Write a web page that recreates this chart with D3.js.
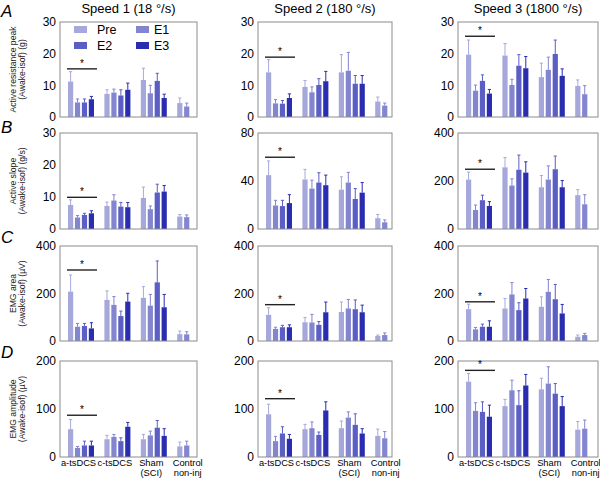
<!DOCTYPE html>
<html><head><meta charset="utf-8">
<script src="https://cdn.jsdelivr.net/npm/d3@7"></script>
<style>body{margin:0;background:#fff;}svg{display:block;font-family:"Liberation Sans",Arial,sans-serif;}</style>
</head><body>
<svg id="c" width="600" height="479"></svg>
<script>
const groups = ["a-tsDCS","c-tsDCS","Sham|(SCI)","Control|non-inj"];
const series = ["Pre","E1","E2","E3"];
const colors = ["#a6a8dc","#8385cf","#5b5ec2","#2a2db0"];
const speedTitles = ["Speed 1 (18 °/s)","Speed 2 (180 °/s)","Speed 3 (1800 °/s)"];
const rowLetters = ["A","B","C","D"];
const rowLabels = [["Active resistance peak","(Awake-isof) (g)"],["Active slope","(Awake-isof) (g/s)"],["EMG area","(Awake-isof) (µV)"],["EMG amplitude","(Awake-isof) (µV)"]];
const yMax = [[30,30,30],[30,80,400],[400,400,400],[200,200,200]];
const yTicks = [[[0,10,20,30],[0,10,20,30],[0,10,20,30]],[[0,10,20,30],[0,40,80],[0,200,400]],[[0,200,400],[0,200,400],[0,200,400]],[[0,100,200],[0,100,200],[0,100,200]]];

// means[col][group][series]
const meanA = [[[11.2,4.6,4.6,5.6],[7.3,7.7,6.8,8.6],[11.7,7.5,11.4,6.0],[4.4,3.3]],
               [[14.1,4.3,4.2,6.0],[9.5,7.8,10.1,11.3],[14.1,14.6,10.5,10.5],[4.9,3.6]],
               [[19.7,8.3,11.4,7.4],[19.4,10.1,16.2,15.4],[12.6,14.9,19.9,13.0],[9.8,7.2]]];
const semA  = [[[3.1,1.1,1.1,0.9],[1.3,1.1,1.8,2.1],[3.7,2.5,2.4,1.2],[1.6,1.1]],
               [[4.0,1.2,1.0,1.3],[2.0,1.7,2.0,3.1],[5.6,5.8,2.6,2.6],[1.4,0.8]],
               [[4.6,1.8,1.9,1.3],[3.8,1.8,3.5,3.7],[4.4,4.0,4.4,2.2],[1.9,2.7]]];
const meanB = [[[7.5,3.6,4.4,4.9],[7.2,8.9,7.0,6.8],[9.7,6.2,11.4,11.7],[3.9,3.7]],
               [[44.9,19.6,19.1,21.6],[41.3,33.7,38.7,36.5],[32.8,38.7,25.0,30.3],[9.0,5.6]],
               [[206,79,120,96],[257,181,247,235],[174,206,249,174],[141,103]]];
const semB  = [[[1.6,0.6,0.5,0.8],[1.2,1.8,1.3,1.5],[3.4,1.0,2.6,1.9],[0.6,0.7]],
               [[11.8,4.3,4.8,7.0],[8.4,7.0,8.2,8.4],[10.7,8.5,8.7,8.4],[3.1,2.0]],
               [[31,21,21,18],[41,28,61,45],[49,57,55,28],[23,40]]];
const meanC = [[[208,60,63,53],[173,152,105,166],[182,149,247,142],[29,28]],
               [[110,51,58,58],[79,78,68,121],[122,137,134,121],[21,25]],
               [[134,49,60,60],[137,196,130,179],[144,207,176,116],[18,25]]];
const semC  = [[[70,14,11,24],[38,35,21,35],[47,47,90,54],[13,11]],
               [[30,7,8,10],[20,34,14,43],[42,38,39,30],[4,9]],
               [[21,8,11,25],[42,50,31,42],[42,52,62,38],[7,7]]];
const meanD = [[[58,19,24,24],[37,42,33,63],[37,45,61,44],[22,24]],
               [[89,33,49,38],[58,60,46,97],[60,82,67,49],[44,39]],
               [[157,96,94,84],[106,139,108,149],[141,153,132,106],[57,59]]];
const semD  = [[[20,3,9,9],[8,5,7,9],[10,9,15,15],[9,9]],
               [[21,10,14,9],[10,13,6,18],[15,12,23,10],[14,14]],
               [[17,17,21,24],[14,21,30,23],[23,35,21,20],[17,18]]];
const sigLevel = [[15.2,18.9,25.5],[9.9,59.8,249],[299,153,165],[87,121.5,180.5]];

const means = [meanA,meanB,meanC,meanD];
const sems = [semA,semB,semC,semD];

const svg = d3.select("#c");
const colLeft = [60,258,458], colW = [137,134,140];
const rowTop = [22,133,246,361], rowH = [95,96,95,96];

const x0 = d3.scaleBand().domain(groups).range([8, 8+4*36.4]).padding(0);
const x1 = d3.scaleBand().domain(series).range([0,26]).paddingInner(0.25).paddingOuter(0);

// titles
speedTitles.forEach((t,c)=>{
  svg.append("text").attr("x", colLeft[c]+colW[c]/2).attr("y",12.5).attr("text-anchor","middle")
    .attr("font-size",13).text(t);
});

rowLetters.forEach((L,r)=>{
  const ly = [17,133,243,358][r];
  svg.append("text").attr("x",1).attr("y",ly).attr("font-size",17).attr("font-style","italic").text(L);
  const cy = rowTop[r]+rowH[r]/2;
  rowLabels[r].forEach((s,i)=>{
    svg.append("text").attr("transform",`translate(${15.5+i*9.5},${cy}) rotate(-90)`)
      .attr("text-anchor","middle").attr("font-size",8.6).attr("fill","#222").text(s);
  });
});

for(let r=0;r<4;r++){
  for(let c=0;c<3;c++){
    const g = svg.append("g").attr("transform",`translate(${colLeft[c]},${rowTop[r]})`);
    const y = d3.scaleLinear().domain([0,yMax[r][c]]).range([rowH[r],0]);
    const ax = g.append("g").call(d3.axisLeft(y).tickValues(yTicks[r][c]).tickSize(0).tickPadding(4).tickFormat(d3.format("d")));
    ax.select(".domain").remove();
    ax.selectAll("text").attr("font-size",12).attr("font-family","Liberation Sans, Arial, sans-serif").attr("fill","#000");
    groups.forEach((gr,gi)=>{
      const vals = means[r][c][gi];
      const ers = sems[r][c][gi];
      vals.forEach((v,si)=>{
        const bx = x0(gr)+x1(series[si]);
        const bw = x1.bandwidth();
        const col = colors[si];
        const top = y(v+ers[si]);
        g.append("line").attr("x1",bx+bw/2).attr("x2",bx+bw/2).attr("y1",y(v)).attr("y2",top)
          .attr("stroke",col).attr("stroke-width",1);
        g.append("line").attr("x1",bx+bw/2-1.6).attr("x2",bx+bw/2+1.6).attr("y1",top).attr("y2",top)
          .attr("stroke",col).attr("stroke-width",1);
        g.append("rect").attr("x",bx).attr("y",y(v)).attr("width",bw).attr("height",y(0)-y(v)).attr("fill",col);
      });
    });
    g.append("rect").attr("x",0).attr("y",0).attr("width",colW[c]).attr("height",rowH[r])
      .attr("fill","none").attr("stroke","#8c8c8c").attr("stroke-width",1);
    const sx0 = x0(groups[0])-1, sx1 = x0(groups[0])+x1("E3")+x1.bandwidth()+3;
    const sy = y(sigLevel[r][c]);
    g.append("line").attr("x1",sx0).attr("x2",sx1).attr("y1",sy).attr("y2",sy).attr("stroke","#222").attr("stroke-width",1.4);
    g.append("text").attr("x",(sx0+sx1)/2).attr("y",sy-2).attr("text-anchor","middle").attr("font-size",10).text("*");
    if(r===3){
      groups.forEach(gr=>{
        const cx = x0(gr)+10.5;
        gr.split("|").forEach((s,i)=>{
          g.append("text").attr("x",cx).attr("y",rowH[r]+8.5+i*10.5).attr("text-anchor","middle")
            .attr("font-size",9.3).text(s);
        });
      });
    }
    if(r===0 && c===0){
      const lx = [[14,37],[76,94]];
      series.forEach((s,i)=>{
        const col = i%2, row = Math.floor(i/2);
        g.append("rect").attr("x",lx[col][0]).attr("y",4+row*16).attr("width",13).attr("height",7).attr("fill",colors[i]);
        g.append("text").attr("x",lx[col][1]).attr("y",11.5+row*16).attr("font-size",12.5).text(s);
      });
    }
  }
}
</script>
</body></html>
